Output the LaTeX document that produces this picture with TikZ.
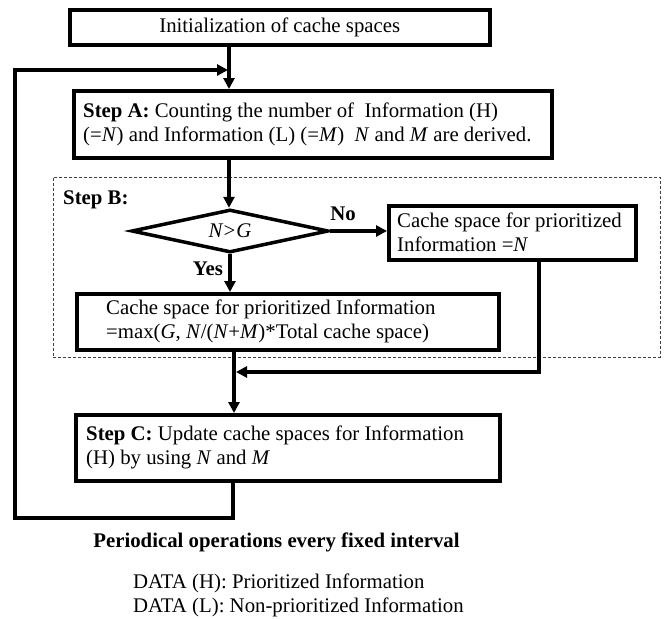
\documentclass[tikz,border=0pt]{standalone}
\usepackage{fontspec}
\setmainfont{Liberation Serif}
\usetikzlibrary{arrows.meta,shapes.geometric}
\begin{document}
\begin{tikzpicture}[x=1pt,y=-1pt,
  every node/.style={font=\fontsize{20.8}{24}\selectfont},
  box/.style={draw, line width=3.5pt, rectangle, inner sep=0pt, anchor=north west},
  txt/.style={inner sep=0pt, align=left, anchor=west},
  flow/.style={draw, line width=3.5pt, -{Triangle[length=11pt,width=11pt]}},
  region/.style={draw=black!75, line width=0.9pt, dash pattern=on 3pt off 2pt,
                 rectangle, inner sep=0pt, anchor=north west}]
\useasboundingbox (0,0) rectangle (665,619);

% dashed frame of step B
\node[region, minimum width=607pt, minimum height=180pt] (stepB) at (53,177) {};
\node[txt, font=\fontsize{20.8}{24}\selectfont\bfseries] (stepBlabel) at (63,200) {Step B:};

% boxes
\node[box, minimum width=420pt, minimum height=35pt] (init) at (68,8) {};
\node[inner sep=0pt] (initText) at (init.center) {Initialization of cache spaces};

\node[box, minimum width=478pt, minimum height=67pt] (stepA) at (72,89) {};
\node[txt] (stepAText) at ([xshift=11pt]stepA.west)
  {\textbf{Step A:} Counting the number of ~Information (H)\\
   (=\textit{N}) and Information (L) (=\textit{M}) ~\textit{N} and \textit{M} are derived.};

\node[draw, line width=3.5pt, shape=diamond, aspect=4.6, inner sep=0pt,
      minimum width=197pt, minimum height=43pt] (dec) at (230,231) {\textit{N>G}};

\node[box, minimum width=247pt, minimum height=54pt] (nobox) at (387,204) {};
\node[txt] (noText) at ([xshift=10pt]nobox.west)
  {Cache space for prioritized\\ Information =\textit{N}};

\node[box, minimum width=422pt, minimum height=56pt] (yesbox) at (75,292) {};
\node[txt] (yesText) at ([xshift=31pt]yesbox.west)
  {Cache space for prioritized Information\\
   =max(\textit{G}, \textit{N}/(\textit{N}+\textit{M})*Total cache space)};

\node[box, minimum width=424pt, minimum height=66pt] (stepC) at (74,413) {};
\node[txt] (stepCText) at ([xshift=12pt]stepC.west)
  {\textbf{Step C:} Update cache spaces for Information\\
   (H) by using \textit{N} and \textit{M}};

% branch labels
\node[font=\fontsize{20.8}{24}\selectfont\bfseries, inner sep=0pt] (noLabel) at (343,214) {No};
\node[font=\fontsize{20.8}{24}\selectfont\bfseries, inner sep=0pt] (yesLabel) at (208,269) {Yes};

% columns of the vertical flow
\coordinate (xtop) at (229,0);
\coordinate (xlow) at (234,0);
\coordinate (xloop) at (233,0);
\coordinate (xnob) at (539,0);
\coordinate (loopbl) at (15,518);
\coordinate (looptop) at (228,70);
\coordinate (merge) at (236,372);

% connectors
\draw[flow] (init.south -| xtop) -- (stepA.north -| xtop);
\draw[flow] (stepA.south -| xtop) -- (dec.north -| xtop);
\draw[flow] (dec.east) -- (dec.east -| nobox.west);
\draw[flow] (dec.south) -- (yesbox.north -| dec.south);
\draw[flow] (yesbox.south -| xlow) -- (stepC.north -| xlow);
\draw[flow] (nobox.south -| xnob) -- (xnob |- merge) -- (merge);
\draw[flow] (stepC.south -| xloop) -- (xloop |- loopbl) -- (loopbl) |- (looptop);

% footnotes
\node[font=\fontsize{20.8}{24}\selectfont\bfseries, inner sep=0pt] (period) at (276.5,542)
  {Periodical operations every fixed interval};
\node[anchor=base west, inner sep=0pt] (legH) at (133,588) {DATA (H): Prioritized Information};
\node[anchor=base west, inner sep=0pt] (legL) at (133,612) {DATA (L): Non-prioritized Information};
\end{tikzpicture}
\end{document}
